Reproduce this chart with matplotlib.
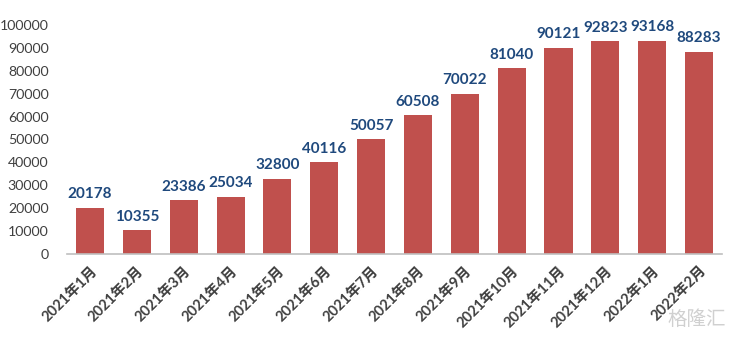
import matplotlib
matplotlib.use("Agg")
import matplotlib.pyplot as plt

categories = ["2021年1月", "2021年2月", "2021年3月", "2021年4月", "2021年5月", "2021年6月",
              "2021年7月", "2021年8月", "2021年9月", "2021年10月", "2021年11月", "2021年12月",
              "2022年1月", "2022年2月"]
values = [20178, 10355, 23386, 25034, 32800, 40116, 50057, 60508, 70022, 81040,
          90121, 92823, 93168, 88283]
yticks = list(range(0, 100001, 10000))

plt.rcParams['font.family'] = ['Lato', 'Noto Sans CJK SC', 'DejaVu Sans']

fig = plt.figure(figsize=(7.32, 3.38), dpi=100)
ax = fig.add_axes([0.091, 0.249, 0.896, 0.677])
x = list(range(len(categories)))
ax.bar(x, values, width=0.6, color="#C0504D", zorder=2)
for xi, v in zip(x, values):
    ax.text(xi, v + 2800, str(v), ha="center", va="bottom", fontsize=11,
            fontweight="bold", color="#1F497D")
ax.set_xlim(-0.5, len(categories) - 0.5)
ax.set_ylim(0, 100000)
ax.set_yticks(yticks)
ax.set_yticklabels([str(t) for t in yticks], fontsize=10.2, color="#404040")
ax.set_xticks(x)
ax.set_xticklabels(categories, rotation=45, ha="right", rotation_mode="anchor",
                   fontsize=10.5, fontweight="bold", color="#404040")
ax.tick_params(axis="both", length=0)
ax.tick_params(axis="y", pad=13)
ax.tick_params(axis="x", pad=7)
for s in ["top", "right", "left"]:
    ax.spines[s].set_visible(False)
ax.spines["bottom"].set_color("#BFBFBF")
ax.spines["bottom"].set_linewidth(1.2)
fig.text(0.992, 0.03, "格隆汇", ha="right", va="bottom", fontsize=14, color="#D0D0D0")
fig.savefig("out.png", dpi=100, facecolor="white")
